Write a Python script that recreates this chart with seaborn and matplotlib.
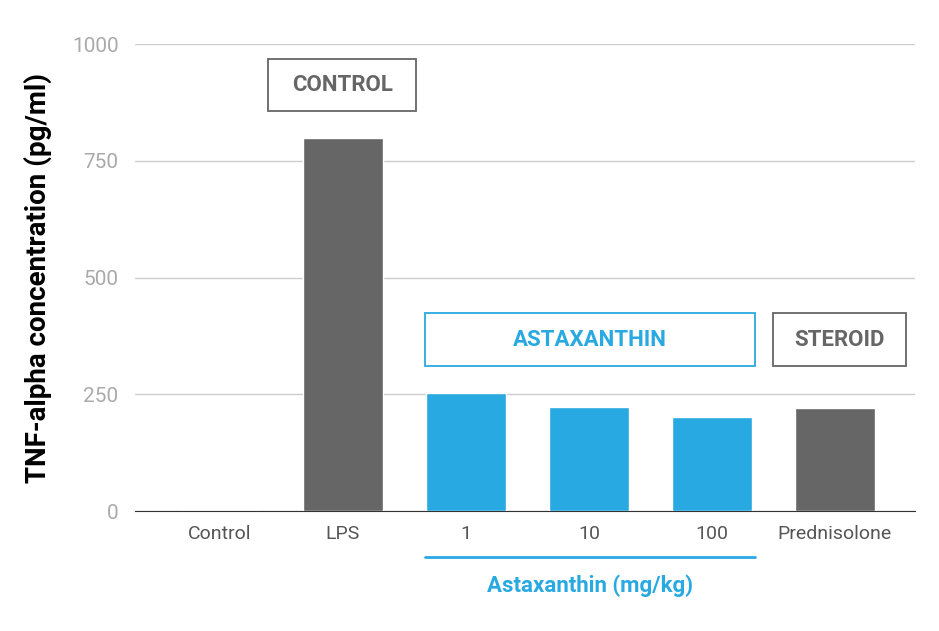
import matplotlib
matplotlib.use("Agg")
import matplotlib.pyplot as plt
import seaborn as sns
import pandas as pd
from matplotlib.patches import Rectangle

groups = ['Control', 'LPS', '1', '10', '100', 'Prednisolone']
tnf = [0, 800, 253, 222, 202, 220]
kind = ['ctrl', 'ctrl', 'asta', 'asta', 'asta', 'ctrl']

grey = '#666666'
blue = '#29A9E1'

df = pd.DataFrame({'group': groups, 'tnf': tnf, 'kind': kind})

sns.set_style('white')
plt.rcParams['font.family'] = ['Roboto', 'DejaVu Sans']

fig = plt.figure(figsize=(9.39, 6.31), dpi=100)
ax = fig.add_axes([0.144, 0.19, 0.83, 0.74])
sns.barplot(data=df, x='group', y='tnf', hue='kind', palette={'ctrl': grey, 'asta': blue},
            width=0.65, dodge=False, saturation=1, legend=False, ax=ax, zorder=3)

ax.set_ylim(0, 1000)
ax.set_xlim(-0.69, 5.65)
ax.set_yticks([0, 250, 500, 750, 1000])
ax.yaxis.grid(True, color='#cccccc', lw=1, zorder=0)
for s in ['top', 'right', 'left']:
    ax.spines[s].set_visible(False)
ax.spines['bottom'].set_color('#333333')
ax.tick_params(axis='y', colors='#aaaaaa', labelsize=15, length=0, pad=12)
ax.tick_params(axis='x', colors='#555555', labelsize=14, length=0, pad=10)
ax.set_xlabel('')
ax.set_ylabel('TNF-alpha concentration (pg/ml)', fontsize=20, fontweight='bold', color='black', labelpad=14)

boxes = [(0.391, 1.595, 856, 968, 'CONTROL', grey),
         (1.668, 4.351, 310, 424, 'ASTAXANTHIN', blue),
         (4.497, 5.578, 310, 424, 'STEROID', grey)]
for x0, x1, y0, y1, txt, c in boxes:
    ax.add_patch(Rectangle((x0, y0), x1 - x0, y1 - y0, fill=True, facecolor='white',
                           edgecolor=c, lw=1.3, zorder=4))
    ax.text((x0 + x1) / 2, (y0 + y1) / 2, txt, color=c, fontsize=16, fontweight='bold',
            ha='center', va='center', zorder=5)

# bracket line under astaxanthin doses
ax.plot([1.668, 4.351], [-98, -98], color=blue, lw=2, clip_on=False)
ax.text(3.01, -160, 'Astaxanthin (mg/kg)', color=blue, fontsize=16, fontweight='bold',
        ha='center', va='center', clip_on=False)

fig.savefig('out.png', dpi=100)
